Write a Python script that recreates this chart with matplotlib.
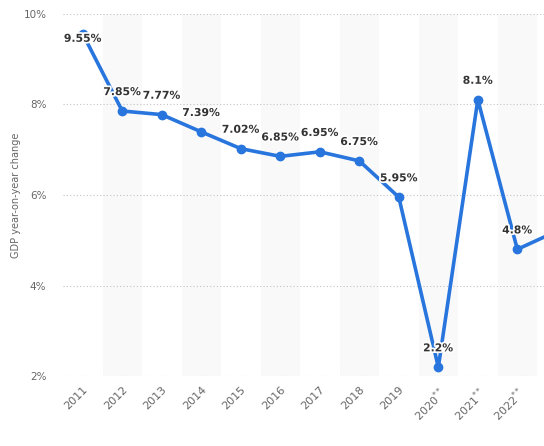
import matplotlib
matplotlib.use("Agg")
import matplotlib.pyplot as plt
import matplotlib.patheffects as pe

years = ["2011", "2012", "2013", "2014", "2015", "2016", "2017", "2018",
         "2019", "2020$^{**}$", "2021$^{**}$", "2022$^{**}$", "2023$^{**}$"]
values = [9.55, 7.85, 7.77, 7.39, 7.02, 6.85, 6.95, 6.75, 5.95, 2.2, 8.1, 4.8, 5.2]
labels = ["9.55%", "7.85%", "7.77%", "7.39%", "7.02%", "6.85%", "6.95%", "6.75%",
          "5.95%", "2.2%", "8.1%", "4.8%", "5.2%"]
yticks = [2, 4, 6, 8, 10]
ytick_labels = ["2%", "4%", "6%", "8%", "10%"]

plt.rcParams['mathtext.fontset'] = 'dejavusans'
fig = plt.figure(figsize=(5.44, 4.46), dpi=100)
ax = fig.add_axes([63/544, 1-376.3/446, 1-63/544, (376.3-13.5)/446])

x = list(range(len(values)))
for i in x:
    if i % 2 == 1:
        ax.axvspan(i-0.5, i+0.5, color='#f9f9f9', zorder=0, lw=0)

ax.plot(x, values, color='#2775dd', lw=2.6, marker='o', markersize=6,
        zorder=3, clip_on=True, solid_joinstyle='round')

for i, (v, lab) in enumerate(zip(values, labels)):
    if i >= 12:
        continue
    dy = 10 if v < 9.2 else -3.5
    ax.annotate(lab, (i, v), xytext=(0, dy), textcoords='offset points',
                ha='center', va='bottom' if dy > 0 else 'center',
                fontsize=7.8, fontweight='bold', color='#333333', zorder=4,
                path_effects=[pe.withStroke(linewidth=2.5, foreground='white')])

ax.set_xticks(x)
ax.set_xticklabels(years, rotation=45, ha='right', va='top', rotation_mode='anchor')
ax.set_yticks(yticks)
ax.set_yticklabels(ytick_labels)
ax.set_ylim(2, 10)
ax.set_xlim(-0.5, 11.675)
ax.grid(axis='y', linestyle=(0, (1, 2)), color='#c4c4c4', lw=0.8, zorder=1)
ax.set_axisbelow(True)
for s in ax.spines.values():
    s.set_visible(False)

ax.tick_params(axis='x', length=0, pad=6, labelsize=8, labelcolor='#666666')
ax.tick_params(axis='y', length=0, pad=12, labelsize=7.5, labelcolor='#666666')
ax.set_ylabel("GDP year-on-year change", fontsize=7, color='#666666', labelpad=2)

fig.savefig("out.png", dpi=100)
